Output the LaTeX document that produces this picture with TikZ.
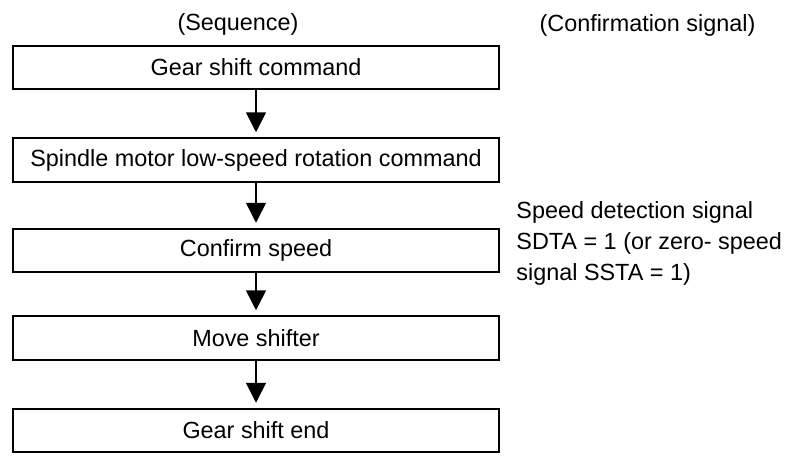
\documentclass[tikz,border=0pt]{standalone}
\usepackage{fontspec}
\setmainfont{Liberation Sans}
\usetikzlibrary{positioning,arrows.meta}

\begin{document}
\begin{tikzpicture}[
  font=\fontsize{11.7}{15.5}\selectfont,
  box/.style={draw, line width=0.9pt, minimum width=243pt, minimum height=21.75pt, inner sep=0pt, outer sep=0pt},
  arr/.style={-{Triangle[width=10pt,length=10pt]}, line width=0.8pt, shorten >=3pt}]

\useasboundingbox (0,0) rectangle (403pt,-227.5pt);

\node[box] (cmd) at (128pt,-33.75pt) {Gear shift command};
\node[box, below=24.5pt of cmd] (low) {Spindle motor low-speed rotation command};
\node[box, below=23.5pt of low] (conf) {Confirm speed};
\node[box, below=22pt of conf] (move) {Move shifter};
\node[box, below=24.5pt of move] (fin) {Gear shift end};

\node (seq) at (119pt,-12pt) {(Sequence)};
\node (sig) at (323.75pt,-12.5pt) {(Confirmation signal)};
\node[anchor=west, align=left, inner sep=0pt] (sdta) at (258pt,-121.5pt) {Speed detection signal\\SDTA = 1 (or zero- speed\\signal SSTA = 1)};

\draw[arr] (cmd) -- (low);
\draw[arr] (low) -- (conf);
\draw[arr] (conf) -- (move);
\draw[arr] (move) -- (fin);
\end{tikzpicture}
\end{document}
